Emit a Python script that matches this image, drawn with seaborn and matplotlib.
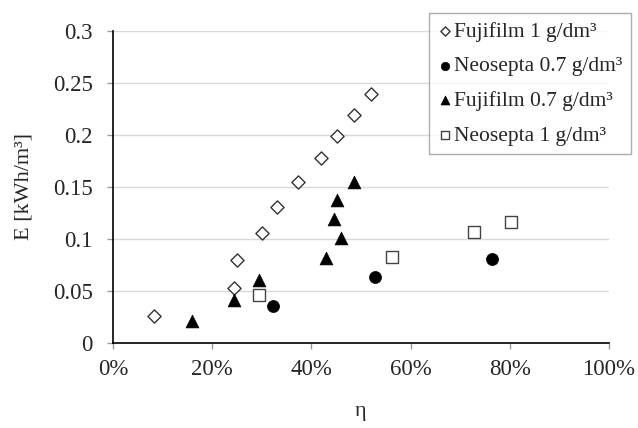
import pandas as pd
import seaborn as sns
import matplotlib.pyplot as plt
from matplotlib.ticker import FuncFormatter, MultipleLocator

# Data (eta as fraction, E in kWh/m3)
fuji1_eta = [0.083, 0.245, 0.251, 0.301, 0.330, 0.374, 0.419, 0.452, 0.486, 0.520]
fuji1_e = [0.026, 0.053, 0.080, 0.106, 0.131, 0.1545, 0.1776, 0.1987, 0.219, 0.239]

neo07_eta = [0.323, 0.529, 0.764]
neo07_e = [0.036, 0.0635, 0.081]

fuji07_eta = [0.159, 0.245, 0.294, 0.429, 0.460, 0.445, 0.452, 0.485]
fuji07_e = [0.0215, 0.041, 0.061, 0.0814, 0.1006, 0.1196, 0.1375, 0.155]

neo1_eta = [0.295, 0.562, 0.727, 0.803]
neo1_e = [0.0465, 0.0824, 0.1067, 0.1166]

labels = ["Fujifilm 1 g/dm³", "Neosepta 0.7 g/dm³", "Fujifilm 0.7 g/dm³", "Neosepta 1 g/dm³"]

sns.set_style("white")
plt.rcParams["font.family"] = ["Liberation Serif", "DejaVu Serif"]

fig = plt.figure(figsize=(6.38, 4.28), dpi=100)
ax = fig.add_axes([0.177, 0.1986, 0.7775, 0.729])

# open diamonds
sns.scatterplot(x=fuji1_eta, y=fuji1_e, marker="D", s=45, facecolor="white",
                edgecolor="#333333", linewidth=1.0, label=labels[0], ax=ax, zorder=3)
# filled circles
sns.scatterplot(x=neo07_eta, y=neo07_e, marker="o", s=75, color="black",
                edgecolor="black", linewidth=0.5, label=labels[1], ax=ax, zorder=3)
# filled triangles
sns.scatterplot(x=fuji07_eta, y=fuji07_e, marker="^", s=85, color="black",
                edgecolor="black", linewidth=0.5, label=labels[2], ax=ax, zorder=3)
# open squares
sns.scatterplot(x=neo1_eta, y=neo1_e, marker="s", s=70, facecolor="white",
                edgecolor="#444444", linewidth=1.0, label=labels[3], ax=ax, zorder=3)

ax.set_xlim(0, 1)
ax.set_ylim(0, 0.3)
ax.xaxis.set_major_locator(MultipleLocator(0.2))
ax.yaxis.set_major_locator(MultipleLocator(0.05))
ax.xaxis.set_major_formatter(FuncFormatter(lambda v, p: f"{v*100:.0f}%"))
ax.yaxis.set_major_formatter(FuncFormatter(lambda v, p: f"{v:g}"))

ax.grid(axis="y", color="#d9d9d9", linewidth=1.0)
ax.grid(axis="x", visible=False)
ax.set_axisbelow(True)
for side in ["top", "right"]:
    ax.spines[side].set_visible(False)
for side in ["left", "bottom"]:
    ax.spines[side].set_color("black")
    ax.spines[side].set_linewidth(1.2)

ax.tick_params(axis="both", which="major", direction="out", length=4.5, width=1,
               color="#999999", labelsize=16.5, left=True, bottom=True)
ax.tick_params(axis="y", pad=10)
ax.tick_params(axis="x", pad=7)

ax.set_xlabel("η", fontsize=16, labelpad=16)
ax.set_ylabel("E [kWh/m³]", fontsize=16, labelpad=14)

leg = ax.legend(loc="upper left", bbox_to_anchor=(429 / 638, 1 - 13 / 428),
                bbox_transform=fig.transFigure, frameon=True, fancybox=False,
                fontsize=15.5, handletextpad=0.05, handlelength=0.7, borderpad=0.4,
                labelspacing=0.68, borderaxespad=0, markerscale=0.7)
leg.get_frame().set_edgecolor("#999999")
leg.get_frame().set_linewidth(1.0)

fig.savefig("out.png", dpi=100)
